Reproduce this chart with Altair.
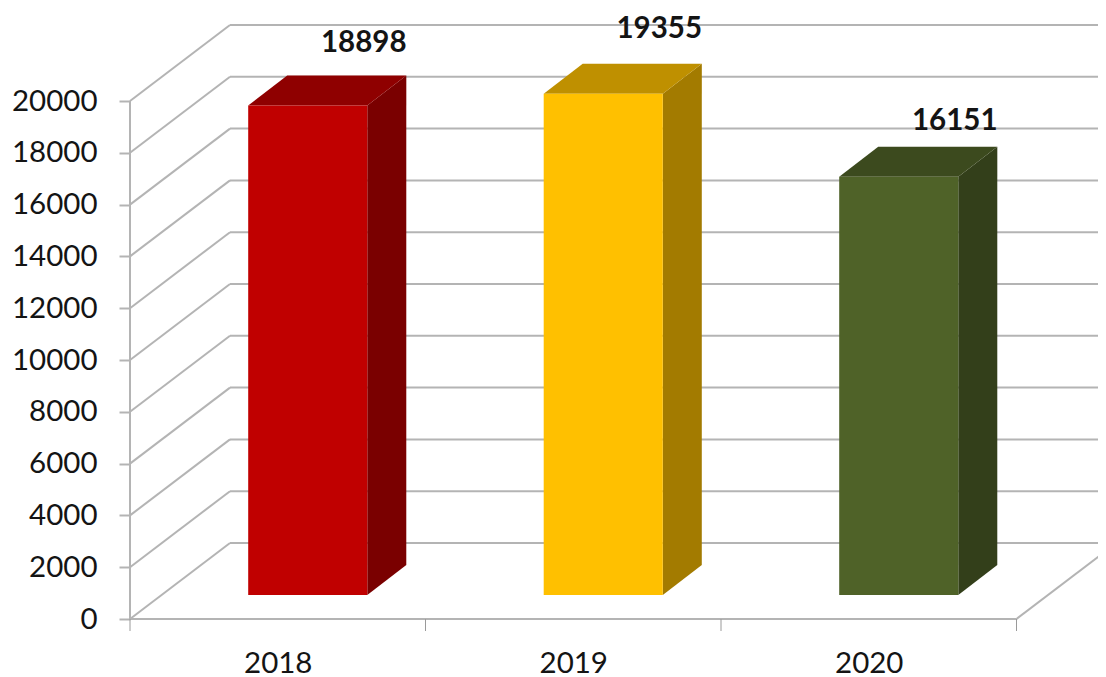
import altair as alt
import pandas as pd

years = ["2018", "2019", "2020"]
values = [18898, 19355, 16151]
front_colors = ["#C00000", "#FFC000", "#4F6228"]
side_colors = ["#7A0000", "#A37B00", "#333F1A"]
top_colors = ["#8F0000", "#BF9000", "#3C4A1E"]
label_lift = [2432, 2510, 2162]
y_ticks = list(range(0, 20001, 2000))

FONT = "Lato"
GRID = "#B4B4B4"
TEXT = "#141414"
PX_X = 295.5
WALL_DX, WALL_DY = 100 / PX_X, 76 / 0.0259
BAR_L, BAR_W = 0.4, 0.403
BAR_BASE = 24 / 0.0259
DEPTH_X, DEPTH_Y = 39 / PX_X, 30 / 0.0259
X_MAX = 968 / PX_X
Y_MIN, Y_MAX = -12 / 0.0259, 595 / 0.0259

xs = alt.Scale(domain=[0, X_MAX], nice=False, zero=False)
ys = alt.Scale(domain=[Y_MIN, Y_MAX], nice=False, zero=False)
year_expr = "datum.value < 1 ? '2018' : datum.value < 2 ? '2019' : '2020'"
x_axis = alt.Axis(values=[0.5, 1.5, 2.5], labelExpr=year_expr, domain=False, ticks=False, grid=False,
                  labelFont=FONT, labelFontSize=29.5, labelColor=TEXT, labelPadding=18, labelFlush=False, title=None)
y_axis = alt.Axis(values=y_ticks, format="d", domain=False, ticks=True, tickSize=11, tickColor=GRID, tickWidth=2,
                  grid=False, labelFont=FONT, labelFontSize=29.5, labelColor=TEXT, labelPadding=22, title=None)
X = lambda f="x": alt.X(f"{f}:Q", scale=xs, axis=x_axis)
Y = lambda f="y": alt.Y(f"{f}:Q", scale=ys, axis=y_axis)

front, side, top = [], [], []
for i, (yr, v) in enumerate(zip(years, values)):
    a, b = i + BAR_L, i + BAR_L + BAR_W
    front.append(dict(year=yr, x=a, x2=b, y=BAR_BASE, y2=BAR_BASE + v, c=front_colors[i]))
    side += [dict(year=yr, x=b, y=BAR_BASE, y2=BAR_BASE + v, c=side_colors[i]),
             dict(year=yr, x=b + DEPTH_X, y=BAR_BASE + DEPTH_Y, y2=BAR_BASE + v + DEPTH_Y, c=side_colors[i])]
    top += [dict(year=yr, y=BAR_BASE + v, x=a, x2=b, c=top_colors[i]),
            dict(year=yr, y=BAR_BASE + v + DEPTH_Y, x=a + DEPTH_X, x2=b + DEPTH_X, c=top_colors[i])]

labels = pd.DataFrame(dict(
    x=[i + BAR_L + BAR_W / 2 for i in range(3)],
    y=[BAR_BASE + v + l for v, l in zip(values, label_lift)],
    t=[str(v) for v in values]))

back = pd.DataFrame(dict(x=WALL_DX, x2=X_MAX, y=[t + WALL_DY for t in y_ticks]))
wall = pd.DataFrame(dict(x=0.0, x2=WALL_DX, y=y_ticks, y2=[t + WALL_DY for t in y_ticks]))
floor = pd.DataFrame(dict(x=[0.0, 3.0], x2=[3.0, 3 + WALL_DX], y=[0.0, 0.0], y2=[0.0, WALL_DY]))
axis_line = pd.DataFrame(dict(x=[0.0], y=[0.0], y2=[20000.0]))
x_ticks = pd.DataFrame(dict(x=[0.0, 1.0, 2.0, 3.0], y=0.0, y2=Y_MIN))

back_l = alt.Chart(back).mark_rule(color=GRID, strokeWidth=2).encode(x=X(), x2="x2:Q", y=Y())
wall_l = alt.Chart(wall).mark_rule(color=GRID, strokeWidth=2).encode(x=X(), x2="x2:Q", y=Y(), y2="y2:Q")
floor_l = alt.Chart(floor).mark_rule(color=GRID, strokeWidth=2, clip=True).encode(x=X(), x2="x2:Q", y=Y(), y2="y2:Q")
axis_l = alt.Chart(axis_line).mark_rule(color=GRID, strokeWidth=2).encode(x=X(), y=Y(), y2="y2:Q")
tick_l = alt.Chart(x_ticks).mark_rule(color="#9A9A9A", strokeWidth=1).encode(x=X(), y=Y(), y2="y2:Q")

side_l = alt.Chart(pd.DataFrame(side)).mark_area(orient="vertical").encode(
    x=X(), y=Y(), y2="y2:Q", detail="year:N", color=alt.Color("c:N", scale=None))
top_l = alt.Chart(pd.DataFrame(top)).mark_area(orient="horizontal").encode(
    y=Y(), x=X(), x2="x2:Q", detail="year:N", color=alt.Color("c:N", scale=None))
front_l = alt.Chart(pd.DataFrame(front)).mark_rect().encode(
    x=X(), x2="x2:Q", y=Y(), y2="y2:Q", color=alt.Color("c:N", scale=None))
text_l = alt.Chart(labels).mark_text(
    font=FONT, fontSize=29.5, fontWeight="bold", color=TEXT, dx=56, baseline="middle"
).encode(x=X(), y=Y(), text="t:N")

chart = alt.layer(
    back_l, wall_l, floor_l, axis_l, tick_l, side_l, top_l, front_l, text_l
).properties(
    width=968, height=607,
    autosize=alt.AutoSizeParams(type="none"),
    padding={"left": 122, "top": 16, "right": 0, "bottom": 47},
    background="white",
).configure_view(stroke=None)

chart.save("out.html", embed_options={"renderer": "svg", "actions": False})
